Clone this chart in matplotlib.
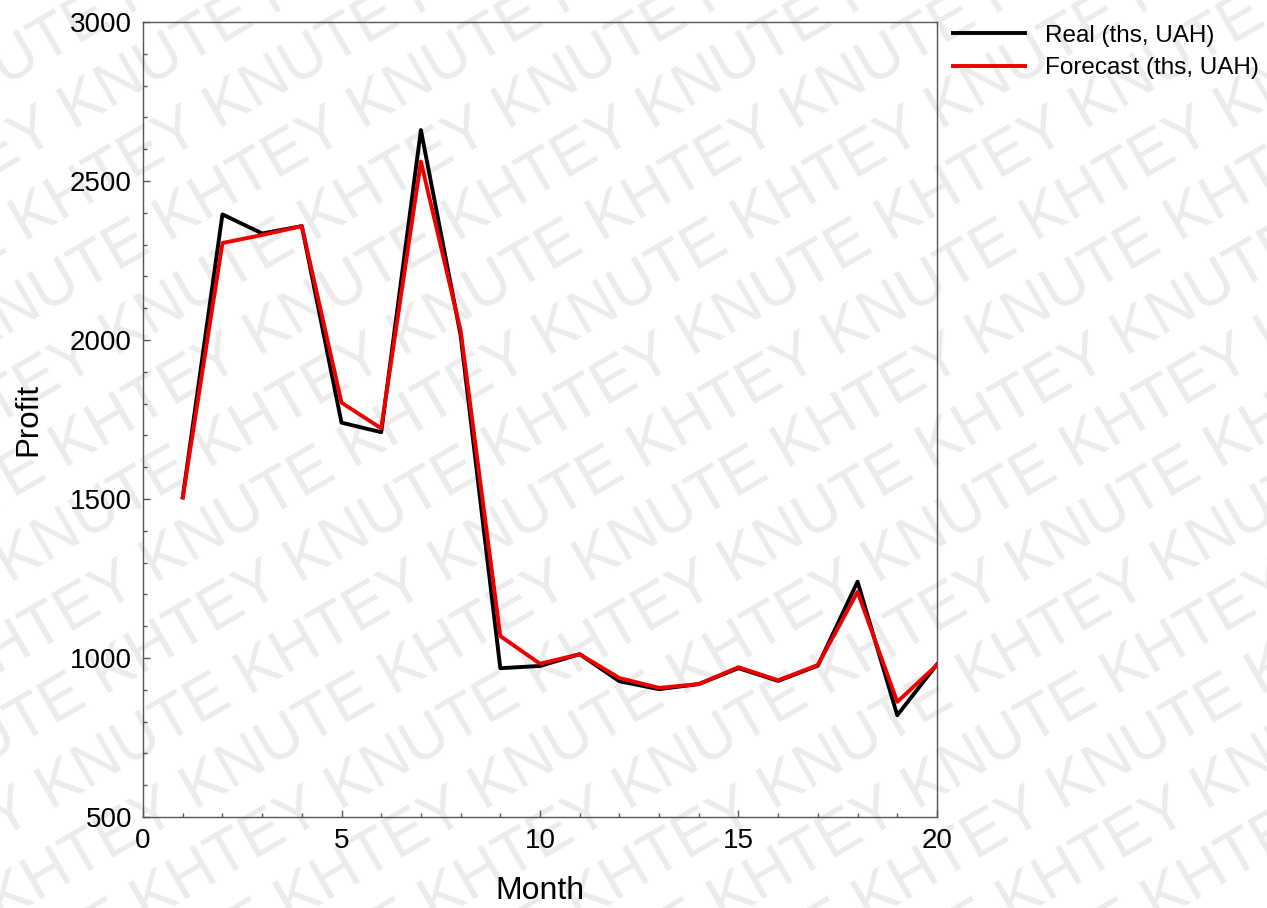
import matplotlib.pyplot as plt
from matplotlib.ticker import MultipleLocator

plt.rcParams['font.family'] = ['Liberation Sans', 'DejaVu Sans']

# data
month = [1, 2, 3, 4, 5, 6, 7, 8, 9, 10, 11, 12, 13, 14, 15, 16, 17, 18, 19, 20]
real = [1505, 2395, 2335, 2358, 1740, 1710, 2660, 2015, 968, 975, 1012, 927, 902, 918, 968, 928, 976, 1240, 820, 980]
forecast = [1505, 2305, 2330, 2358, 1803, 1722, 2561, 2030, 1069, 982, 1012, 937, 906, 918, 971, 930, 978, 1208, 862, 978]
labels = ['Real (ths, UAH)', 'Forecast (ths, UAH)']

fig = plt.figure(figsize=(12.67, 9.08), dpi=100)
ax = fig.add_axes([0.1129, 0.1002, 0.6266, 0.8756])
ax.set_facecolor('none')

# watermark in the background
wm = 'KHTEY KNUTE ' * 10
for i in range(-9, 10):
    fig.text(0.5 + i * 0.114, 0.5, wm, rotation=30, fontsize=45,
             color='#ebebeb', ha='center', va='center', zorder=-10,
             rotation_mode='anchor')

ax.plot(month, real, color='black', lw=2.8, label=labels[0])
ax.plot(month, forecast, color='#ee0000', lw=2.8, label=labels[1])

ax.set_xlim(0, 20)
ax.set_ylim(500, 3000)
ax.xaxis.set_major_locator(MultipleLocator(5))
ax.xaxis.set_minor_locator(MultipleLocator(1))
ax.yaxis.set_major_locator(MultipleLocator(500))
ax.yaxis.set_minor_locator(MultipleLocator(100))
ax.tick_params(which='both', direction='in', labelsize=20, colors='#555555',
               labelcolor='black', width=1)
ax.tick_params(which='major', length=5, pad=8)
ax.tick_params(which='minor', length=3)
for s in ax.spines.values():
    s.set_color('#555555')
    s.set_linewidth(1)

ax.set_xlabel('Month', fontsize=23, labelpad=16)
ax.set_ylabel('Profit', fontsize=22.5, labelpad=19)

fig.legend(loc='upper left', bbox_to_anchor=(0.7522, 0.973), frameon=False,
           fontsize=17.5, handlelength=2.96, handletextpad=0.82, labelspacing=0.45,
           borderpad=0, borderaxespad=0)

fig.savefig('out.png', dpi=100)
